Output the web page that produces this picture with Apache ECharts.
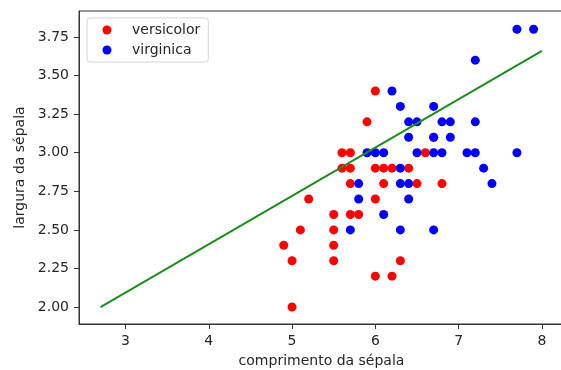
<!DOCTYPE html>
<html>
<head>
<meta charset="utf-8">
<script src="https://cdn.jsdelivr.net/npm/echarts@6/dist/echarts.min.js"></script>
<style>
  html, body { margin: 0; padding: 0; background: #fff; }
  #chart { width: 561px; height: 370px; }
</style>
</head>
<body>
<div id="chart"></div>
<script>
// pontos: [comprimento, largura]
var versicolor = [
    [6.0, 3.4], [5.9, 3.2], [5.6, 3.0], [5.7, 3.0], [6.6, 3.0], [6.7, 3.1],
    [5.6, 2.9], [5.7, 2.9], [6.0, 2.9], [6.1, 2.9], [6.2, 2.9], [6.4, 2.9],
    [5.7, 2.8], [6.1, 2.8], [6.5, 2.8], [6.8, 2.8], [5.2, 2.7], [6.0, 2.7],
    [5.5, 2.6], [5.7, 2.6], [5.8, 2.6], [5.1, 2.5], [5.5, 2.5], [4.9, 2.4],
    [5.5, 2.4], [5.0, 2.3], [5.5, 2.3], [6.3, 2.3], [6.0, 2.2], [6.2, 2.2],
    [5.0, 2.0]
];
var virginica = [
    [7.7, 3.8], [7.9, 3.8], [7.2, 3.6], [6.2, 3.4], [6.3, 3.3], [6.7, 3.3],
    [6.4, 3.2], [6.5, 3.2], [6.8, 3.2], [6.9, 3.2], [7.2, 3.2], [6.4, 3.1],
    [6.7, 3.1], [6.9, 3.1], [5.9, 3.0], [6.0, 3.0], [6.1, 3.0], [6.5, 3.0],
    [6.7, 3.0], [6.8, 3.0], [7.1, 3.0], [7.2, 3.0], [7.7, 3.0], [6.3, 2.9],
    [7.3, 2.9], [5.8, 2.8], [6.3, 2.8], [6.4, 2.8], [7.4, 2.8], [5.8, 2.7],
    [6.4, 2.7], [6.1, 2.6], [5.7, 2.5], [6.3, 2.5], [6.7, 2.5]
];
// reta ajustada (extremos)
var retaX = [2.7, 8.0];
var retaY = [2.0, 3.66];
var xTicks = [3, 4, 5, 6, 7, 8];
var yTicks = [2.0, 2.25, 2.5, 2.75, 3.0, 3.25, 3.5, 3.75];

var fonte = 'DejaVu Sans';
var corTexto = '#262626';
var corEixo = '#333';

var reta = retaX.map(function (x, i) { return [x, retaY[i]]; });

var myChart = echarts.init(document.getElementById('chart'), null, { renderer: 'canvas' });

var option = {
    animation: false,
    backgroundColor: '#fff',
    textStyle: { fontFamily: fonte },
    grid: {
        left: 79,
        top: 11,
        width: 485,
        bottom: 46,
        outerBoundsMode: 'none',
        containLabel: false,
        show: true,
        borderColor: corEixo,
        borderWidth: 1
    },
    legend: {
        orient: 'vertical',
        left: 87,
        top: 18,
        padding: [5, 8, 5, 15.5],
        itemGap: 6,
        itemWidth: 9,
        itemHeight: 9,
        icon: 'circle',
        backgroundColor: '#fff',
        borderColor: '#d5d5d5',
        borderWidth: 1,
        borderRadius: 3,
        formatter: '{t|{name}}',
        textStyle: {
            fontFamily: fonte,
            fontSize: 14,
            color: corTexto,
            rich: {
                t: {
                    fontFamily: fonte,
                    fontSize: 14,
                    color: corTexto,
                    lineHeight: 16,
                    padding: [0, 0, 0, 15.5]
                }
            }
        },
        data: ['versicolor', 'virginica']
    },
    xAxis: {
        type: 'value',
        min: 2.442,
        max: 8.265,
        name: 'comprimento da sépala',
        nameLocation: 'middle',
        nameGap: 30,
        nameTextStyle: { fontFamily: fonte, fontSize: 14, color: corTexto },
        axisLine: { lineStyle: { color: corEixo, width: 1 } },
        axisTick: { length: 5, customValues: xTicks, lineStyle: { color: corEixo } },
        axisLabel: {
            customValues: xTicks,
            margin: 10,
            fontFamily: fonte,
            fontSize: 14,
            color: corTexto
        },
        splitLine: { show: false }
    },
    yAxis: {
        type: 'value',
        min: 1.89,
        max: 3.9185,
        name: 'largura da sépala',
        nameLocation: 'middle',
        nameGap: 48,
        nameTextStyle: { fontFamily: fonte, fontSize: 14, color: corTexto },
        axisLine: { show: true, lineStyle: { color: corEixo, width: 1 } },
        axisTick: { show: true, length: 5, customValues: yTicks, lineStyle: { color: corEixo } },
        axisLabel: {
            customValues: yTicks,
            margin: 10,
            fontFamily: fonte,
            fontSize: 14,
            color: corTexto,
            formatter: function (v) { return v.toFixed(2); }
        },
        splitLine: { show: false }
    },
    series: [
        {
            name: 'versicolor',
            type: 'scatter',
            symbolSize: 9,
            itemStyle: { color: '#ff0000', opacity: 1 },
            data: versicolor
        },
        {
            name: 'virginica',
            type: 'scatter',
            symbolSize: 9,
            itemStyle: { color: '#0000ff', opacity: 1 },
            data: virginica
        },
        {
            name: 'reta',
            type: 'line',
            symbol: 'none',
            z: 5,
            lineStyle: { color: '#1f8b1f', width: 2 },
            data: reta
        }
    ]
};

myChart.setOption(option);
</script>
</body>
</html>
